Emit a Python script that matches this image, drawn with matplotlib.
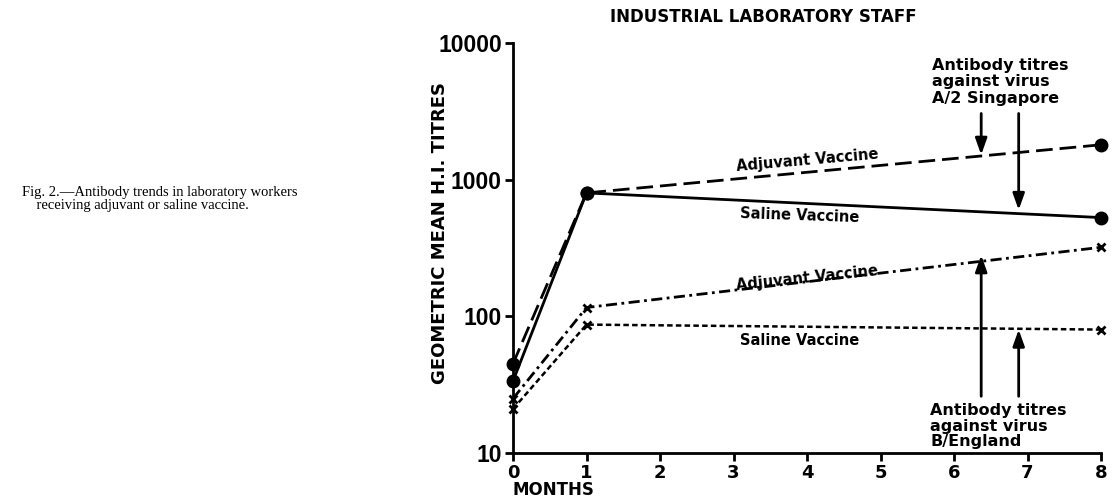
import matplotlib
matplotlib.use("Agg")
import matplotlib.pyplot as plt
from matplotlib.ticker import NullLocator

months = [0, 1, 8]
a2_adjuvant = [45, 800, 1800]
a2_saline = [33.6, 800, 528]
b_adjuvant = [25, 116, 320]
b_saline = [21, 87, 80]
x_ticks = [0, 1, 2, 3, 4, 5, 6, 7, 8]
y_ticks = [10, 100, 1000, 10000]
y_tick_labels = ["10", "100", "1000", "10000"]

plt.rcParams['font.family'] = ['DejaVu Sans']
W, H = 1113, 499
fig = plt.figure(figsize=(W / 100, H / 100), dpi=100)
ax = fig.add_axes([513 / W, 1 - 453 / H, (1101 - 513) / W, (453 - 43) / H])

ax.plot(months, a2_adjuvant, color='black', lw=2, ls=(0, (6, 2.5)),
        marker='o', ms=9, zorder=3, clip_on=False)
ax.plot(months, a2_saline, color='black', lw=2, ls='-',
        marker='o', ms=9, zorder=3, clip_on=False)
ax.plot(months, b_adjuvant, color='black', lw=2, ls=(0, (4, 1.6, 1, 1.6)),
        marker='x', ms=6, mew=2, zorder=3, clip_on=False)
ax.plot(months, b_saline, color='black', lw=1.8, ls=(0, (2.2, 1.3)),
        marker='x', ms=6, mew=2, zorder=3, clip_on=False)

ax.set_yscale('log')
ax.set_xlim(0, 8)
ax.set_ylim(10, 10000)
ax.set_yticks(y_ticks)
ax.set_yticklabels(y_tick_labels)
ax.yaxis.set_minor_locator(NullLocator())
ax.set_xticks(x_ticks)
ax.set_xticklabels([str(v) for v in x_ticks])
for s in ['top', 'right']:
    ax.spines[s].set_visible(False)
for s in ['left', 'bottom']:
    ax.spines[s].set_linewidth(2)
ax.tick_params(axis='y', direction='out', length=6, width=2, pad=2)
ax.tick_params(axis='x', direction='out', length=6, width=2, labelsize=13,
               pad=2)
for lab in ax.get_yticklabels():
    lab.set_fontweight('bold')
    lab.set_family('Liberation Sans')
    lab.set_fontsize(16.5)
for lab in ax.get_xticklabels():
    lab.set_fontweight('bold')

fig.text(440 / W, 1 - 233 / H, "GEOMETRIC MEAN H.I. TITRES", fontsize=13,
         fontweight='bold', rotation=90, ha='center', va='center')
fig.text(513 / W, 1 - 490 / H, "MONTHS", fontsize=12, fontweight='bold',
         ha='left', va='center')
fig.text(763 / W, 1 - 17 / H, "INDUSTRIAL LABORATORY STAFF", fontsize=12,
         fontweight='bold', ha='center', va='center')

tkw = dict(fontsize=10.5, fontweight='bold', ha='center', va='center')
ax.text(4.0, 1380, "Adjuvant Vaccine", rotation=5, **tkw)
ax.text(3.9, 546, "Saline Vaccine", rotation=-2, **tkw)
ax.text(4.0, 190, "Adjuvant Vaccine", rotation=6, **tkw)
ax.text(3.9, 66, "Saline Vaccine", **tkw)

ax.text(5.70, 10 ** (1 + (453 - 81) / 137), "Antibody titres\nagainst virus\nA/2 Singapore",
        fontsize=11.5, fontweight='bold', ha='left', va='center',
        linespacing=1.15)
ax.text(5.68, 10 ** (1 + (453 - 426) / 137), "Antibody titres\nagainst virus\nB/England",
        fontsize=11.5, fontweight='bold', ha='left', va='center',
        linespacing=1.05)

akw = dict(arrowstyle='-|>,head_width=0.25,head_length=0.7', color='black',
           lw=2, mutation_scale=14, shrinkA=0, shrinkB=0)
ax.annotate("", xy=(6.37, 1520), xytext=(6.37, 3050), arrowprops=akw)
ax.annotate("", xy=(6.88, 600), xytext=(6.88, 3050), arrowprops=akw)
ax.annotate("", xy=(6.37, 280), xytext=(6.37, 26), arrowprops=akw)
ax.annotate("", xy=(6.88, 80), xytext=(6.88, 26), arrowprops=akw)

fig.text(22 / W, 1 - 199 / H, "Fig. 2.—Antibody trends in laboratory workers\n"
         "    receiving adjuvant or saline vaccine.",
         fontsize=10.5, family='Liberation Serif', ha='left', va='center',
         linespacing=1.0)

fig.savefig("out.png", dpi=100)
